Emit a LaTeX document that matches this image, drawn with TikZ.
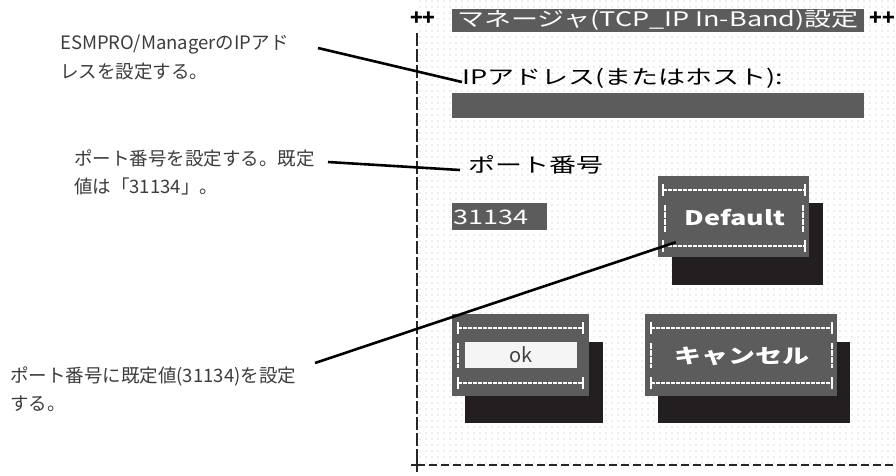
\documentclass[tikz,border=0pt]{standalone}
\usepackage{fontspec}
\setmainfont{Noto Sans CJK JP}
\newfontfamily\scrfont[FakeStretch=1.35]{Noto Sans CJK JP}
\usetikzlibrary{calc, patterns.meta}

\definecolor{scrgray}{HTML}{5C5C5C}
\definecolor{shadowblk}{HTML}{231F20}
\definecolor{notegray}{HTML}{3C3C3C}

\tikzset{
  note/.style = {anchor=west, align=left, inner sep=0, text=notegray,
                 font=\fontsize{18.5}{28.5}\selectfont},
  leader/.style = {line width=2.6pt, black},
  scrtext/.style = {inner sep=0, font=\scrfont\fontsize{20}{20}\selectfont},
  btnbody/.style = {fill=scrgray, inner sep=0},
  btnshadow/.style = {fill=shadowblk},
  rail/.style = {white, line width=1.3pt, dash pattern=on 4pt off 1pt},
  railbar/.style = {white, line width=1.6pt, dash pattern=on 6pt off 1pt},
  frameline/.style = {black!85, line width=1.8pt}
}

% white dashed rail with "+" at both ends
\newcommand{\btnrail}[3]{%
  \draw[rail] (#1,#3) -- (#2,#3);
  \draw[white, line width=1.5pt] (#1,#3-6) -- (#1,#3+6) (#2,#3-6) -- (#2,#3+6);
}

\begin{document}
\begin{tikzpicture}[x=1pt, y=-1pt]
	\useasboundingbox (0,0) rectangle (896,475);

	% screen
	\fill[pattern={Dots[distance=6pt, radius=0.6pt]}, pattern color=gray!60] (418,0) rectangle (896,463);
	\draw[frameline, dash pattern=on 13pt off 3pt] (417,33) -- (417,465);
	\draw[frameline, dash pattern=on 8pt off 4pt] (417,465) -- (896,465);
	\draw[frameline] (411,465) -- (423,465) (417,459) -- (417,472);
	\node[font=\fontsize{21}{21}\selectfont\bfseries, inner sep=0, anchor=west] (plusl) at (410,19) {++};
	\node[font=\fontsize{21}{21}\selectfont\bfseries, inner sep=0, anchor=east] (plusr) at (895,19) {++};

	% title
	\node[btnbody, minimum width=412pt, minimum height=23pt] (titlebar) at (658,20) {};
	\node[scrtext, text=white] (title) at (titlebar) {マネージャ(TCP\_IP In-Band)設定};

	% address
	\node[scrtext, anchor=west] (iplabel) at (462,78) {IPアドレス(またはホスト):};
	\node[btnbody, minimum width=412pt, minimum height=25pt] (ipfield) at (658,105.5) {};

	% port
	\node[scrtext, anchor=west] (portlabel) at (468,165) {ポート番号};
	\node[btnbody, minimum width=95pt, minimum height=27pt] (portfield) at (499.5,216.5) {};
	\node[scrtext, text=white, anchor=west] (portval) at (453,217) {31134};

	% Default button
	\fill[btnshadow] (672,203) rectangle (823,285);
	\node[btnbody, minimum width=151pt, minimum height=81pt] (dfltbtn) at (733.5,216.5) {};
	\btnrail{663}{805}{190}
	\btnrail{663}{805}{246}
	\draw[railbar] (665,205) -- (665,232) (803,205) -- (803,232);
	\node[scrtext, text=white, font=\scrfont\fontsize{20}{20}\selectfont\bfseries] (dflt) at (735,218) {Default};

	% ok button
	\fill[btnshadow] (465,342) rectangle (603,423);
	\node[btnbody, minimum width=137pt, minimum height=82pt] (okbtn) at (520.5,355) {};
	\fill[gray!8] (465,342) rectangle (577,368);
	\btnrail{458}{583}{328}
	\btnrail{458}{583}{383}
	\draw[railbar] (458,343) -- (458,368);
	\draw[scrgray, line width=1.6pt] (579,343) -- (579,368) (585,343) -- (585,368);
	\node[inner sep=0, text=black!75, font=\fontsize{20}{20}\selectfont] (ok) at (521,355) {ok};

	% cancel button
	\fill[btnshadow] (658,342) rectangle (850,423);
	\node[btnbody, minimum width=192pt, minimum height=82pt] (cancelbtn) at (741,355) {};
	\btnrail{651}{832}{328}
	\btnrail{651}{832}{383}
	\draw[railbar] (651,343) -- (651,368) (832,343) -- (832,368);
	\node[scrtext, text=white, font=\scrfont\fontsize{20}{20}\selectfont\bfseries] (cancel) at (742,356) {キャンセル};

	% notes
	\node[note] (noteip) at (60,57.5) {ESMPRO/ManagerのIPアド\\レスを設定する。};
	\node[note] (noteport) at (74,172.5) {ポート番号を設定する。既定\\値は「31134」。};
	\node[note] (notedflt) at (10,389) {ポート番号に既定値(31134)を設定\\する。};

	\coordinate (ipstart) at (318,48);
	\coordinate (portstart) at (328,162);
	\coordinate (dfltstart) at (315,363);

	\draw[leader] (ipstart) -- ($(iplabel.west)+(0,4)$);
	\draw[leader] (portstart) -- ($(portlabel.west)+(-8,5)$);
	\draw[leader] (dfltstart) -- ($(dfltbtn.south west)+(18,-15)$);
\end{tikzpicture}
\end{document}
